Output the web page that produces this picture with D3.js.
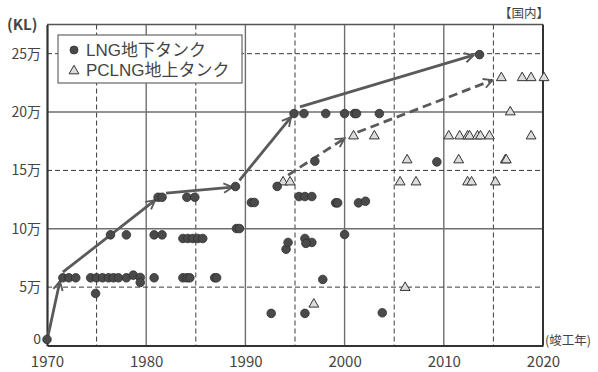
<!DOCTYPE html>
<html>
<head>
<meta charset="utf-8">
<script src="https://cdn.jsdelivr.net/npm/d3@7"></script>
<style>
  html, body { margin: 0; padding: 0; background: #fff; }
  svg { display: block; }
  text { font-family: "Noto Sans CJK JP", "Noto Sans", sans-serif; fill: #444; }
</style>
</head>
<body>
<svg id="chart" width="598" height="372"></svg>
<script>
// LNG underground tanks: [completion year, capacity KL]
const undergroundTanks = [
  [1970.0, 5200],
  [1971.6, 58000], [1972.2, 58000], [1972.9, 58000],
  [1974.4, 58000], [1975.0, 58000], [1975.6, 58000], [1976.2, 58000],
  [1976.7, 58000], [1977.2, 58000], [1978.0, 58000], [1978.7, 60300],
  [1979.4, 58300], [1979.4, 54000], [1980.8, 58000], [1974.9, 44600],
  [1983.7, 58000], [1984.1, 58000], [1984.4, 58000],
  [1986.9, 58000], [1987.1, 58000],
  [1992.6, 27500], [1994.1, 82500], [1994.3, 88300],
  [1976.4, 94800], [1978.0, 94800], [1980.8, 94800], [1981.6, 94800],
  [1983.7, 91700], [1984.2, 91700], [1984.7, 91700], [1985.2, 91700], [1985.7, 91700],
  [1981.2, 127000], [1981.6, 127000], [1984.1, 127000], [1984.9, 127000],
  [1989.0, 136200], [1989.1, 100200], [1989.4, 100200],
  [1990.6, 122500], [1990.9, 122500], [1993.2, 136300],
  [1995.4, 127600], [1996.0, 127600], [1996.7, 127600],
  [1997.0, 157900], [2009.3, 157300],
  [1999.1, 122200], [1999.3, 122200], [2001.4, 122200], [2002.1, 123600],
  [2000.0, 95100], [1996.0, 91700], [1996.7, 88300], [1996.1, 87500],
  [1996.0, 27500], [1997.8, 56600], [2003.8, 28000],
  [1994.9, 198700], [1995.9, 198700], [1998.1, 198700], [2000.0, 198700],
  [2001.0, 198700], [2001.2, 198700], [2003.5, 198700],
  [2013.6, 249200]
];

// PC LNG above-ground tanks: [completion year, capacity KL]
const abovegroundTanks = [
  [1993.8, 140700], [1994.5, 140700],
  [2000.9, 180100], [2003.0, 180100], [2010.5, 180100], [2011.6, 180100],
  [2012.4, 180100], [2012.6, 180100], [2013.4, 180100], [2013.7, 180100],
  [2014.6, 180100], [2018.8, 180100],
  [2006.3, 159600], [2011.5, 159600], [2016.2, 159600], [2016.3, 159600],
  [2005.6, 140700], [2007.2, 140700], [2012.4, 140700], [2012.8, 140700], [2015.2, 140700],
  [1996.9, 36000], [2006.1, 50300],
  [2015.8, 230000], [2017.9, 230000], [2018.8, 230000], [2020.1, 230000],
  [2016.7, 200700]
];

// Trend arrows (largest capacity over time)
const undergroundTrend = [
  [[1970.1, 8000], [1971.3, 55000]],
  [[1971.6, 62800], [1980.9, 124500]],
  [[1982.0, 130500], [1988.7, 135600]],
  [[1989.4, 141500], [1994.6, 195700]],
  [[1995.5, 204400], [2013.0, 248700]]
];
const abovegroundTrend = [
  [[1994.3, 146000], [2000.0, 177500]],
  [[2001.3, 182700], [2014.9, 227300]]
];

const yearTicks = [1970, 1980, 1990, 2000, 2010, 2020];
const gridYears = [1975, 1980, 1985, 1990, 1995, 2000, 2005, 2010, 2015];
const capacityTicks = [0, 50000, 100000, 150000, 200000, 250000];
const capacityLabels = ["0", "5万", "10万", "15万", "20万", "25万"];
const legendLabels = ["LNG地下タンク", "PCLNG地上タンク"];

const svg = d3.select("#chart");
const margin = { left: 47, right: 55, top: 24.5, bottom: 26.5 };
const W = 598, H = 372;
const x = d3.scaleLinear().domain([1970, 2020]).range([margin.left, W - margin.right]);
const y = d3.scaleLinear().domain([0, 275000]).range([H - margin.bottom, margin.top]);

// Gridlines
const grid = svg.append("g");
grid.selectAll("line.v").data(gridYears).join("line")
  .attr("x1", d => x(d)).attr("x2", d => x(d))
  .attr("y1", y(275000)).attr("y2", y(0))
  .attr("stroke", d => d % 10 === 0 ? "#6e6e6e" : "#3a3a3a")
  .attr("stroke-width", d => d % 10 === 0 ? 1.4 : 1)
  .attr("stroke-dasharray", d => d % 10 === 0 ? null : "5,3");
grid.selectAll("line.h").data(capacityTicks.slice(1)).join("line")
  .attr("x1", x(1970)).attr("x2", x(2020))
  .attr("y1", d => y(d)).attr("y2", d => y(d))
  .attr("stroke", d => d % 100000 === 0 ? "#6e6e6e" : "#3a3a3a")
  .attr("stroke-width", d => d % 100000 === 0 ? 1.4 : 1)
  .attr("stroke-dasharray", d => d % 100000 === 0 ? null : "5,3");

// Frame
svg.append("line").attr("x1", x(1970)).attr("x2", x(2020)).attr("y1", y(275000)).attr("y2", y(275000))
  .attr("stroke", "#555").attr("stroke-width", 1.5);
svg.append("line").attr("x1", x(2020)).attr("x2", x(2020)).attr("y1", y(275000)).attr("y2", y(0))
  .attr("stroke", "#333").attr("stroke-width", 2);

// Axes
const yAxis = svg.append("g").attr("transform", `translate(${x(1970)},0)`)
  .call(d3.axisLeft(y).tickValues(capacityTicks).tickSize(0).tickPadding(6)
    .tickFormat((d, i) => capacityLabels[i]));
yAxis.select(".domain").attr("stroke", "#333").attr("stroke-width", 2.2);
yAxis.selectAll("text").style("font-size", "14px").attr("fill", "#444")
  .attr("dy", d => d === 0 ? "-0.15em" : "0.32em");

const xAxis = svg.append("g").attr("transform", `translate(0,${y(0)})`)
  .call(d3.axisBottom(x).tickValues(yearTicks).tickSize(0).tickPadding(11).tickFormat(d3.format("d")));
xAxis.select(".domain").attr("stroke", "#333").attr("stroke-width", 2.2);
xAxis.selectAll("text").style("font-size", "15px").attr("fill", "#444");

// Axis titles
svg.append("text").attr("x", 7).attr("y", 30).text("(KL)")
  .style("font-size", "15px").style("font-weight", "bold").attr("fill", "#222");
svg.append("text").attr("x", 499).attr("y", 18).text("【国内】")
  .style("font-size", "12.5px");
svg.append("text").attr("x", 545).attr("y", 345).text("(竣工年)")
  .style("font-size", "12.5px");

// Arrowheads
const defs = svg.append("defs");
defs.append("marker").attr("id", "chev")
  .attr("viewBox", "0 0 10 10").attr("refX", 8.5).attr("refY", 5)
  .attr("markerWidth", 4.2).attr("markerHeight", 4.2).attr("orient", "auto")
  .attr("markerUnits", "strokeWidth")
  .append("path").attr("d", "M1,1 L8.5,5 L1,9").attr("fill", "none")
  .attr("stroke", "#5a5a5a").attr("stroke-width", 1.6).attr("stroke-linejoin", "miter");

const line = d3.line().x(d => x(d[0])).y(d => y(d[1]));
svg.append("g").selectAll("path").data(undergroundTrend).join("path")
  .attr("d", line).attr("fill", "none").attr("stroke", "#5a5a5a")
  .attr("stroke-width", 2.8).attr("marker-end", "url(#chev)");
svg.append("g").selectAll("path").data(abovegroundTrend).join("path")
  .attr("d", line).attr("fill", "none").attr("stroke", "#5a5a5a")
  .attr("stroke-width", 2.8).attr("stroke-dasharray", "9,5").attr("marker-end", "url(#chev)");

// Markers
const tri = d3.symbol().type(d3.symbolTriangle).size(42);
svg.append("g").selectAll("path").data(abovegroundTanks).join("path")
  .attr("d", tri).attr("transform", d => `translate(${x(d[0])},${y(d[1]) + 0.8})`)
  .attr("fill", "#dcdcdc").attr("stroke", "#333").attr("stroke-width", 1);
svg.append("g").selectAll("circle").data(undergroundTanks).join("circle")
  .attr("cx", d => x(d[0])).attr("cy", d => y(d[1])).attr("r", 4.3)
  .attr("fill", "#4a4a4a").attr("stroke", "#2e2e2e").attr("stroke-width", 0.8);

// Legend
const lg = svg.append("g");
lg.append("rect").attr("x", 58).attr("y", 35).attr("width", 184).attr("height", 48)
  .attr("fill", "#fff").attr("stroke", "#666").attr("stroke-width", 1.2);
lg.append("circle").attr("cx", 74).attr("cy", 50).attr("r", 4)
  .attr("fill", "#4a4a4a").attr("stroke", "#2e2e2e").attr("stroke-width", 0.8);
lg.append("path").attr("d", tri).attr("transform", "translate(74,71)")
  .attr("fill", "#dcdcdc").attr("stroke", "#333").attr("stroke-width", 1);
lg.selectAll("text").data(legendLabels).join("text")
  .attr("x", 86).attr("y", (d, i) => 56 + i * 20).text(d => d)
  .style("font-family", "'Liberation Sans', 'Noto Sans CJK JP', sans-serif")
  .style("font-size", "17px").attr("fill", "#444");
</script>
</body>
</html>
